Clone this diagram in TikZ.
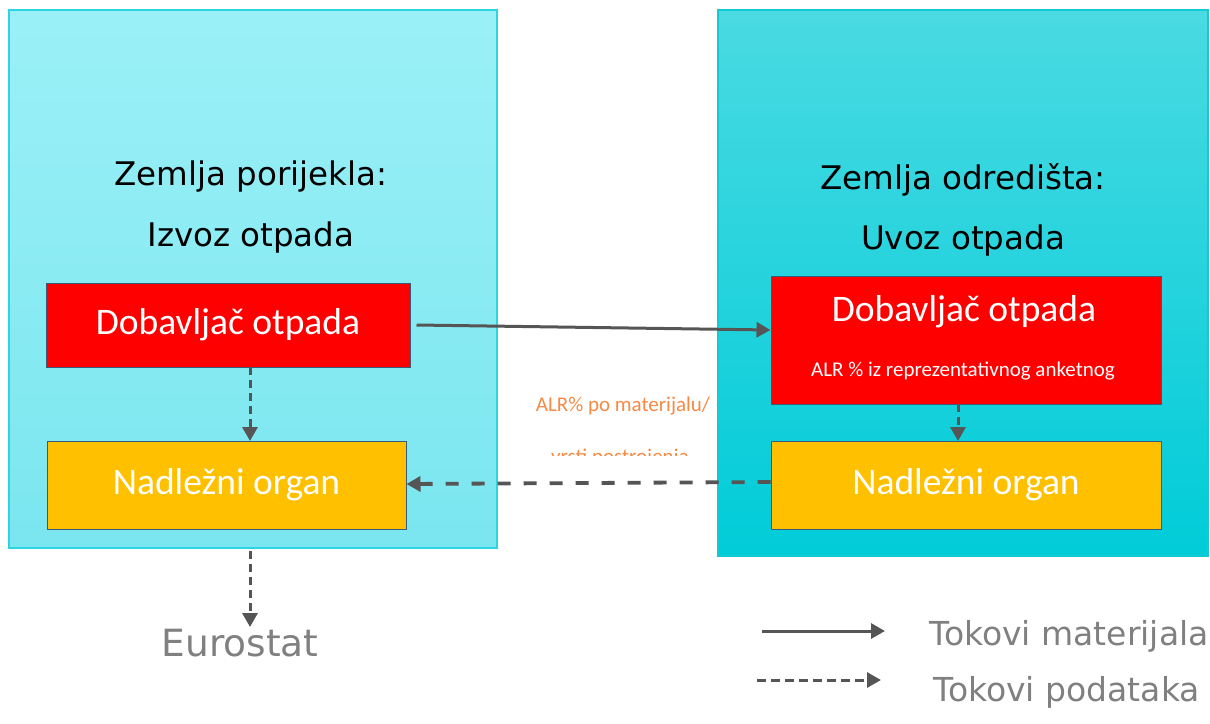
\documentclass[tikz,border=0pt]{standalone}
\usepackage{fontspec}
\setmainfont{DejaVu Sans}
\newfontfamily\carlitofont{Carlito}
\usetikzlibrary{arrows.meta}
\definecolor{arr}{HTML}{555555}
\definecolor{gtxt}{HTML}{808080}
\definecolor{redf}{HTML}{FF0000}
\definecolor{orgf}{HTML}{FFC000}
\definecolor{bord}{HTML}{3A5A78}
\definecolor{alr}{HTML}{F58A45}
\definecolor{ltop}{RGB}{155,240,247}
\definecolor{lbot}{RGB}{122,230,239}
\definecolor{lbord}{RGB}{45,213,224}
\definecolor{rtop}{RGB}{74,218,226}
\definecolor{rbot}{RGB}{0,204,216}
\definecolor{rbord}{RGB}{20,200,212}
\tikzset{
  region/.style={draw=#1, line width=1.5pt},
  redbox/.style={draw=bord, fill=redf, line width=1pt, text=white},
  orgbox/.style={draw=bord, fill=orgf, line width=1pt, text=white},
  title/.style={font=\fontsize{32.5}{38}\selectfont, text=black},
  boxfont/.style={font=\carlitofont\fontsize{37.5}{44}\selectfont},
  smallfont/.style={font=\carlitofont\fontsize{21}{25}\selectfont},
  flow/.style={draw=arr, line width=3pt, -{Triangle[length=14pt,width=15pt]}},
  dataflow/.style={flow, dash pattern=on 8pt off 5pt},
  bigdataflow/.style={flow, line width=3.8pt, dash pattern=on 13pt off 13pt},
  gray/.style={text=gtxt},
}
\begin{document}
\begin{tikzpicture}[x=1pt,y=-1pt]
\useasboundingbox (0,0) rectangle (1210,723);
% regions
\shade[top color=ltop, bottom color=lbot] (9,10) rectangle (497,548);
\draw[region=lbord] (9,10) rectangle (497,548);
\shade[top color=rtop, bottom color=rbot] (718,10) rectangle (1208,556);
\draw[region=rbord] (718,10) rectangle (1208,556);
% titles
\node[title] (t1) at (251,177) {Zemlja porijekla:};
\node[title] (t2) at (251,238) {Izvoz otpada};
\node[title] (t3) at (963,180) {Zemlja odredišta:};
\node[title] (t4) at (963,241) {Uvoz otpada};
% boxes
\node[redbox, minimum width=364pt, minimum height=84pt, boxfont] (ld) at (228,325) {Dobavljač otpada};
\node[orgbox, minimum width=359pt, minimum height=88pt, boxfont] (ln) at (226.5,485) {Nadležni organ};
\node[redbox, minimum width=390pt, minimum height=128pt] (rd) at (966,340) {};
\node[text=white, boxfont] (rdt) at (964,312) {Dobavljač otpada};
\node[text=white, smallfont] (rds) at (963,371) {ALR \% iz reprezentativnog anketnog};
\node[orgbox, minimum width=390pt, minimum height=88pt, boxfont] (rn) at (966,485) {Nadležni organ};
% ALR text
\node[text=alr, smallfont] (alr1) at (623,406) {ALR\% po materijalu/};
\begin{scope}
\clip (520,440) rectangle (720,455);
\node[text=alr, smallfont] (alr2) at (620,458) {vrsti postrojenja};
\end{scope}
% arrows
\draw[flow] (ld.east) ++(6,0) coordinate (a1) -- (rd.west |- 0,330);
\draw[dataflow] (250,367) -- (250,441);
\draw[dataflow] (958,404) -- (958,441);
\draw[bigdataflow] (rn.west |- 0,482) -- (ln.east |- 0,484);
\node[gray, font=\fontsize{37.5}{44}\selectfont] (eu) at (240,643) {Eurostat};
\draw[dataflow] (250,551) -- (250,627);
% legend
\coordinate (l1a) at (762,631);
\coordinate (l1b) at (885,631);
\coordinate (l2a) at (757,680);
\coordinate (l2b) at (881,680);
\draw[flow] (l1a) -- (l1b);
\draw[dataflow, dash pattern=on 9pt off 5pt] (l2a) -- (l2b);
\node[gray, font=\fontsize{33}{38}\selectfont, anchor=west] (lt1) at (926,636) {Tokovi materijala};
\node[gray, font=\fontsize{33}{38}\selectfont, anchor=west] (lt2) at (930,692) {Tokovi podataka};
\end{tikzpicture}
\end{document}
